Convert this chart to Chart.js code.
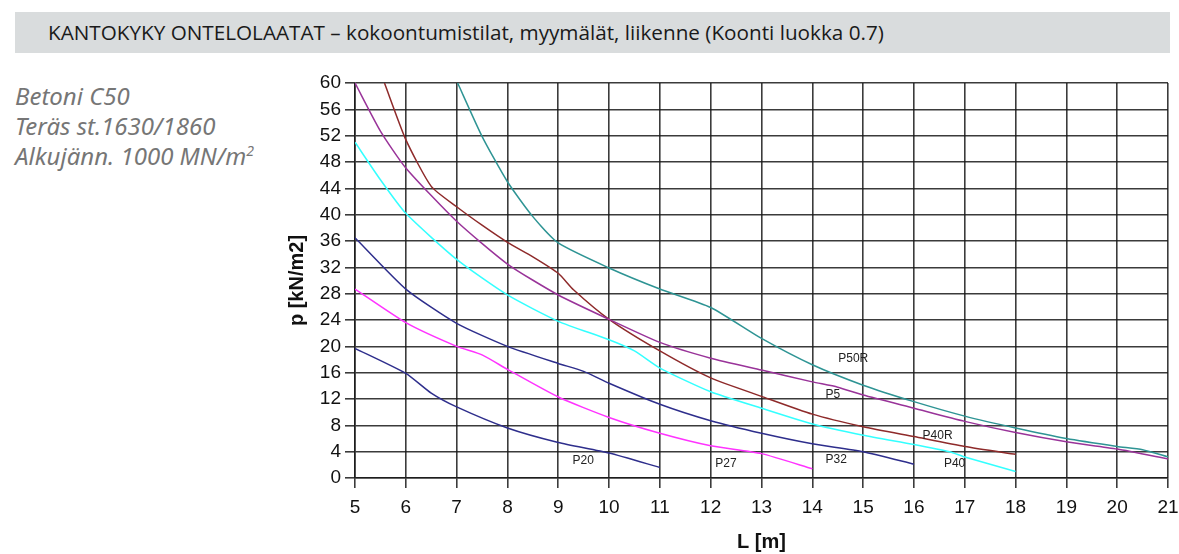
<!DOCTYPE html>
<html>
<head>
<meta charset="utf-8">
<script src="https://cdn.jsdelivr.net/npm/chart.js@4"></script>
<style>
  body { margin: 0; background: #fff; }
  #wrap { position: relative; width: 1179px; height: 554px; }
  #title {
    position: absolute; left: 15px; top: 12px; width: 1155px; height: 41px;
    background: #d9dcdd; color: #1a1a1a;
    font-family: "Open Sans", Roboto, sans-serif; font-size: 20.7px;
    line-height: 41px; padding-left: 33px; box-sizing: border-box;
  }
  #info {
    position: absolute; left: 15px; top: 81px; color: #767676;
    font-family: "Noto Sans", sans-serif; font-style: italic; font-size: 24px; line-height: 30px;
  }
  #info sup { font-size: 14px; line-height: 0; vertical-align: 9px; }
  canvas { position: absolute; left: 0; top: 0; }
</style>
</head>
<body>
<div id="wrap">
  <div id="title">KANTOKYKY ONTELOLAATAT – kokoontumistilat, myymälät, liikenne (Koonti luokka 0.7)</div>
  <div id="info">Betoni C50<br>Teräs st.1630/1860<br>Alkujänn. 1000 MN/m<sup>2</sup></div>
  <canvas id="slabChart" width="1179" height="554"></canvas>
</div>
<script>
// span L [m] and capacity p [kN/m2]
const p20L = [5, 6, 6.5, 7, 8, 9, 10, 11];
const p20p = [19.7, 15.9, 12.9, 10.8, 7.6, 5.4, 3.8, 1.6];

const p27L = [5, 6, 7, 7.5, 8, 9, 10, 11, 12, 13, 14];
const p27p = [28.7, 23.6, 20.0, 18.7, 16.5, 12.3, 9.2, 6.8, 4.9, 3.7, 1.4];

const p32L = [5, 6, 7, 8, 9, 9.5, 10, 11, 12, 13, 14, 15, 16];
const p32p = [36.5, 28.7, 23.5, 20.0, 17.4, 16.2, 14.4, 11.2, 8.7, 6.8, 5.2, 4.0, 2.1];

const p40L = [5, 5.5, 6, 7, 8, 9, 10, 10.5, 11, 12, 13, 14, 15, 16, 16.7, 17, 18];
const p40p = [51.0, 45.3, 40.2, 33.2, 27.8, 23.8, 21.0, 19.3, 16.7, 13.1, 10.6, 8.2, 6.5, 5.1, 4.0, 3.2, 1.0];

const p5L = [5, 5.5, 6, 7, 8, 9, 10, 11, 12, 13, 14, 14.5, 15, 16, 17, 18, 19, 20, 21];
const p5p = [60, 52.7, 47.1, 39.0, 32.5, 27.8, 24.1, 20.6, 18.2, 16.4, 14.6, 13.8, 12.6, 10.6, 8.6, 6.9, 5.5, 4.4, 2.9];

const p40RL = [5.58, 6, 6.5, 7, 7.5, 8, 8.5, 9, 9.3, 10, 11, 12, 13, 14, 15, 16, 17, 18];
const p40Rp = [60, 51.4, 44.3, 41.2, 38.4, 35.8, 33.6, 31.1, 28.6, 24.1, 19.3, 15.2, 12.4, 9.7, 7.8, 6.3, 4.8, 3.6];

const p50RL = [7.02, 7.5, 8, 8.5, 9, 10, 11, 12, 13, 14, 15, 16, 17, 18, 19, 20, 20.5, 21];
const p50Rp = [60, 51.9, 45.0, 39.7, 35.7, 31.9, 28.7, 25.9, 21.2, 17.2, 14.1, 11.6, 9.4, 7.6, 6.0, 4.8, 4.3, 3.2];

// curve names and where their text sits (in L / p units)
const curveNames = ['P20', 'P27', 'P32', 'P40', 'P40R', 'P5', 'P50R'];
const nameL = [9.28, 12.09, 14.26, 16.59, 16.17, 14.26, 14.51];
const nameP = [2.7, 2.1, 2.8, 2.1, 6.4, 12.7, 18.1];

const toPoints = (xs, ys) => xs.map((x, i) => ({x: x, y: ys[i]}));

const curves = [
    {data: toPoints(p20L, p20p), color: '#2e2e8c'},
    {data: toPoints(p27L, p27p), color: '#ff33ff'},
    {data: toPoints(p32L, p32p), color: '#2e2e8c'},
    {data: toPoints(p40L, p40p), color: '#33ffff'},
    {data: toPoints(p5L, p5p), color: '#993399'},
    {data: toPoints(p40RL, p40Rp), color: '#8e2a2a'},
    {data: toPoints(p50RL, p50Rp), color: '#2e9494'}
];

const curveLabels = {
    id: 'curveLabels',
    afterDatasetsDraw(chart) {
        const ctx = chart.ctx;
        const xs = chart.scales.x, ys = chart.scales.y;
        ctx.save();
        ctx.font = '12px "Liberation Sans", Arial, sans-serif';
        ctx.fillStyle = '#222';
        ctx.textAlign = 'left';
        ctx.textBaseline = 'middle';
        curveNames.forEach((name, i) => {
            ctx.fillText(name, xs.getPixelForValue(nameL[i]), ys.getPixelForValue(nameP[i]));
        });
        ctx.restore();
    }
};

const gridStyle = {color: 'rgba(25,25,25,0.85)', lineWidth: 1.6, tickLength: 10};
const tickFont = {family: '"Liberation Sans", Arial, sans-serif', size: 19};
const titleFont = {family: '"Liberation Sans", Arial, sans-serif', size: 20, weight: 'bold'};

new Chart(document.getElementById('slabChart').getContext('2d'), {
    type: 'line',
    data: {
        datasets: curves.map(c => ({
            data: c.data,
            borderColor: c.color,
            borderWidth: 1.5,
            pointRadius: 0,
            tension: 0.2,
            fill: false
        }))
    },
    options: {
        responsive: false,
        animation: false,
        layout: {padding: {left: 285, right: 11, top: 83, bottom: 0}},
        plugins: {legend: {display: false}, tooltip: {enabled: false}},
        scales: {
            x: {
                type: 'linear', min: 5, max: 21,
                border: {color: 'rgba(25,25,25,0.85)', width: 1.6},
                grid: gridStyle,
                ticks: {stepSize: 1, color: '#111', font: tickFont, padding: 8, maxRotation: 0},
                title: {display: true, text: 'L [m]', color: '#111', font: titleFont, padding: {top: 6, bottom: 0}},
                // let the last tick label hang past the plot edge
                afterFit: s => { s.height = 76; s.paddingRight = 0; s.paddingLeft = 0; }
            },
            y: {
                min: 0, max: 60,
                border: {color: 'rgba(25,25,25,0.85)', width: 1.6},
                grid: gridStyle,
                ticks: {stepSize: 4, color: '#111', font: tickFont, padding: 4},
                title: {display: true, text: 'p [kN/m2]', color: '#111', font: titleFont, padding: 0},
                afterFit: s => { s.width = 70; }
            }
        }
    },
    plugins: [curveLabels]
});
</script>
</body>
</html>
